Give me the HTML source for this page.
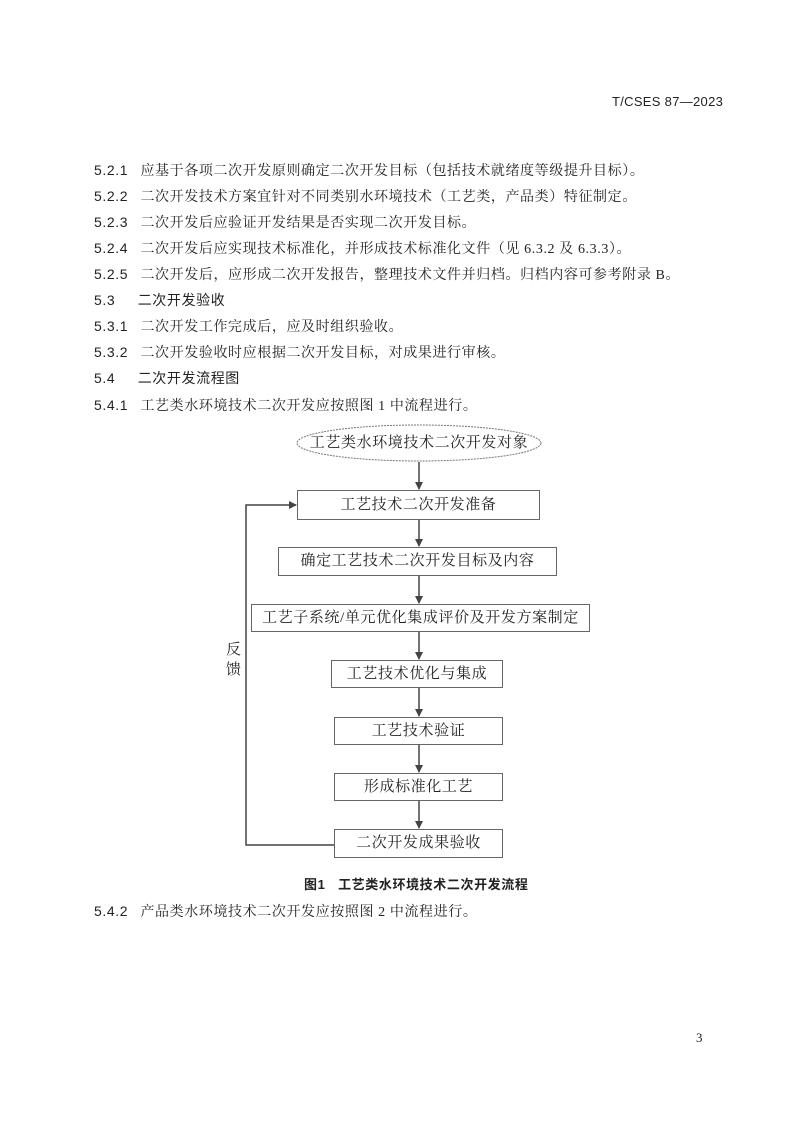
<!DOCTYPE html>
<html><head><meta charset="utf-8"><style>
body{margin:0;background:#fff}
.p{position:relative;width:794px;height:1123px;font-family:"Liberation Serif","Noto Serif CJK SC",serif;color:#222;font-size:14px}
.t{position:absolute;white-space:nowrap;line-height:16px;letter-spacing:0.6px}
.n{font-family:"Liberation Sans","Noto Sans CJK SC",sans-serif}
.b{position:absolute;border:1px solid #666;box-sizing:border-box;text-align:center;font-size:15px;background:#fff;letter-spacing:0.6px}
</style></head><body><div class="p">
<div class="t n" style="left:612px;top:94px;font-size:13px;letter-spacing:0.3px">T/CSES 87—2023</div>
<div class="t" style="left:94px;top:162px"><span class="n">5.2.1</span>&nbsp;&nbsp; 应基于各项二次开发原则确定二次开发目标（包括技术就绪度等级提升目标）。</div>
<div class="t" style="left:94px;top:188px"><span class="n">5.2.2</span>&nbsp;&nbsp; 二次开发技术方案宜针对不同类别水环境技术（工艺类，产品类）特征制定。</div>
<div class="t" style="left:94px;top:214px"><span class="n">5.2.3</span>&nbsp;&nbsp; 二次开发后应验证开发结果是否实现二次开发目标。</div>
<div class="t" style="left:94px;top:240px"><span class="n">5.2.4</span>&nbsp;&nbsp; 二次开发后应实现技术标准化，并形成技术标准化文件（见 6.3.2 及 6.3.3）。</div>
<div class="t" style="left:94px;top:266px"><span class="n">5.2.5</span>&nbsp;&nbsp; 二次开发后，应形成二次开发报告，整理技术文件并归档。归档内容可参考附录 B。</div>
<div class="t n" style="left:94px;top:292px">5.3&nbsp;&nbsp;&nbsp;&nbsp; 二次开发验收</div>
<div class="t" style="left:94px;top:318px"><span class="n">5.3.1</span>&nbsp;&nbsp; 二次开发工作完成后，应及时组织验收。</div>
<div class="t" style="left:94px;top:344px"><span class="n">5.3.2</span>&nbsp;&nbsp; 二次开发验收时应根据二次开发目标，对成果进行审核。</div>
<div class="t n" style="left:94px;top:370px">5.4&nbsp;&nbsp;&nbsp;&nbsp; 二次开发流程图</div>
<div class="t" style="left:94px;top:397px"><span class="n">5.4.1</span>&nbsp;&nbsp; 工艺类水环境技术二次开发应按照图 1 中流程进行。</div>
<svg style="position:absolute;left:0;top:0" width="794" height="1123">
<defs><marker id="a" markerWidth="8" markerHeight="8" refX="7" refY="4" orient="auto" markerUnits="userSpaceOnUse"><path d="M0,0L8,4L0,8z" fill="#444"/></marker></defs>
<ellipse cx="419" cy="443" rx="122" ry="18" fill="none" stroke="#777" stroke-dasharray="2,1"/>
<g stroke="#444" stroke-width="1.5" fill="none">
<line x1="419" y1="462" x2="419" y2="489" marker-end="url(#a)"/>
<line x1="419" y1="520" x2="419" y2="546" marker-end="url(#a)"/>
<line x1="419" y1="576" x2="419" y2="603" marker-end="url(#a)"/>
<line x1="419" y1="632" x2="419" y2="659" marker-end="url(#a)"/>
<line x1="419" y1="688" x2="419" y2="716" marker-end="url(#a)"/>
<line x1="419" y1="745" x2="419" y2="772" marker-end="url(#a)"/>
<line x1="419" y1="801" x2="419" y2="828" marker-end="url(#a)"/>
<polyline points="334,845 246,845 246,505 296,505" marker-end="url(#a)"/>
</g></svg>
<div class="t" style="left:297px;top:435px;width:244px;text-align:center;font-size:15px">工艺类水环境技术二次开发对象</div>
<div class="b" style="left:297px;top:490px;width:243px;height:30px;line-height:28px">工艺技术二次开发准备</div>
<div class="b" style="left:278px;top:547px;width:279px;height:29px;line-height:27px">确定工艺技术二次开发目标及内容</div>
<div class="b" style="left:251px;top:604px;width:339px;height:28px;line-height:26px">工艺子系统/单元优化集成评价及开发方案制定</div>
<div class="b" style="left:331px;top:660px;width:172px;height:28px;line-height:26px">工艺技术优化与集成</div>
<div class="b" style="left:334px;top:717px;width:169px;height:28px;line-height:26px">工艺技术验证</div>
<div class="b" style="left:334px;top:773px;width:169px;height:28px;line-height:26px">形成标准化工艺</div>
<div class="b" style="left:334px;top:829px;width:169px;height:29px;line-height:27px">二次开发成果验收</div>
<div class="t" style="left:226px;top:640px;font-size:15px;line-height:20px">反<br>馈</div>
<div class="t n" style="left:304px;top:877px;font-weight:bold;font-size:13px">图1&nbsp;&nbsp; 工艺类水环境技术二次开发流程</div>
<div class="t" style="left:94px;top:903px"><span class="n">5.4.2</span>&nbsp;&nbsp; 产品类水环境技术二次开发应按照图 2 中流程进行。</div>
<div class="t" style="left:696px;top:1030px;font-size:13px">3</div>
</div></body></html>
